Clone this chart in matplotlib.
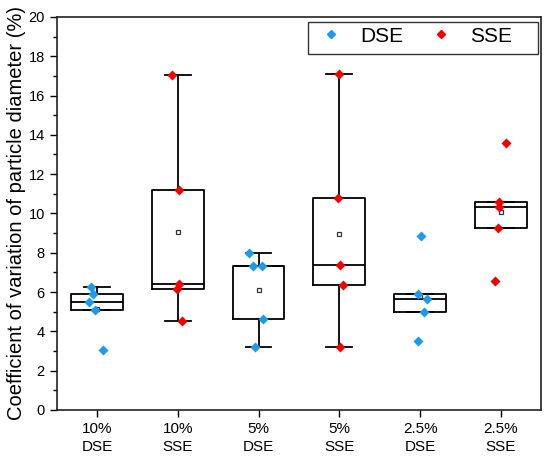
import matplotlib
matplotlib.use('Agg')
import matplotlib.pyplot as plt
from matplotlib.ticker import MultipleLocator
from matplotlib.lines import Line2D
from matplotlib.patches import Rectangle

plt.rcParams['font.family'] = ['Liberation Sans', 'DejaVu Sans']

labels = ['10%\nDSE', '10%\nSSE', '5%\nDSE', '5%\nSSE', '2.5%\nDSE', '2.5%\nSSE']
groups = ['DSE', 'SSE', 'DSE', 'SSE', 'DSE', 'SSE']

# coefficient of variation values per sample
cv_10_dse = [6.28, 5.90, 5.48, 5.07, 3.05]
cv_10_sse = [17.03, 11.20, 6.40, 6.14, 4.53]
cv_5_dse = [8.00, 7.30, 7.33, 4.61, 3.22]
cv_5_sse = [17.07, 10.80, 7.38, 6.37, 3.22]
cv_25_dse = [8.84, 5.89, 5.66, 4.99, 3.51]
cv_25_sse = [13.57, 10.59, 10.31, 9.26, 6.55]

# horizontal jitter of the dots
jit_10_dse = [-0.07, -0.05, -0.10, -0.03, 0.08]
jit_10_sse = [-0.07, 0.01, 0.02, -0.01, 0.05]
jit_5_dse = [-0.12, -0.07, 0.04, 0.05, -0.04]
jit_5_sse = [0.00, -0.02, 0.01, 0.04, 0.01]
jit_25_dse = [0.01, -0.02, 0.09, 0.05, -0.02]
jit_25_sse = [0.07, -0.02, -0.02, -0.04, -0.07]

data = [cv_10_dse, cv_10_sse, cv_5_dse, cv_5_sse, cv_25_dse, cv_25_sse]
jitter = [jit_10_dse, jit_10_sse, jit_5_dse, jit_5_sse, jit_25_dse, jit_25_sse]
colors = {'DSE': '#1a9bf0', 'SSE': '#f00000'}

fig = plt.figure(figsize=(5.5, 4.57), dpi=100)
ax = fig.add_axes([0.103, 0.103, 0.881, 0.860])

pos = list(range(1, len(data) + 1))
lw = 1.3
ax.boxplot(data, positions=pos, widths=0.64, showfliers=False, showmeans=True,
           boxprops=dict(color='black', linewidth=lw),
           medianprops=dict(color='black', linewidth=lw),
           whiskerprops=dict(color='black', linewidth=lw),
           capprops=dict(color='black', linewidth=lw),
           meanprops=dict(marker='s', markerfacecolor='white', markeredgecolor='#333333',
                          markersize=3.5, markeredgewidth=0.9))

for i, (vals, jit, g) in enumerate(zip(data, jitter, groups)):
    xs = [pos[i] + j for j in jit]
    ax.scatter(xs, vals, marker='D', s=26, color=colors[g], zorder=3, linewidths=0)

ax.set_xlim(0.5, 6.5)
ax.set_ylim(0, 20)
ax.set_xticks(pos)
ax.set_xticklabels(labels, fontsize=11, linespacing=1.3)
ax.yaxis.set_major_locator(MultipleLocator(2))
ax.yaxis.set_minor_locator(MultipleLocator(1))
ax.tick_params(axis='y', labelsize=10.5, direction='out', length=5, width=1)
ax.tick_params(axis='y', which='minor', length=3, width=1)
ax.tick_params(axis='x', direction='out', length=5, width=1, pad=4)
for s in ax.spines.values():
    s.set_linewidth(1.2)
    s.set_color('#222222')
ax.set_ylabel('Coefficient of variation of particle diameter (%)', fontsize=14.5, labelpad=2)

handles = [Line2D([], [], linestyle='none', marker='D', markersize=4, color=colors['DSE'], label='DSE'),
           Line2D([], [], linestyle='none', marker='D', markersize=4, color=colors['SSE'], label='SSE')]
leg = ax.legend(handles=handles, loc='upper right', bbox_to_anchor=(0.946, 0.983), ncol=2,
                fontsize=15, frameon=False, borderaxespad=0, borderpad=0.15,
                handlelength=1.0, handletextpad=0.9, columnspacing=1.28)

# legend frame with wider side margins, like the original
fig.canvas.draw()
bb = leg.get_window_extent(fig.canvas.get_renderer())
frame = Rectangle((bb.x0 - 10, bb.y0 - 4.7), bb.width + 10 + 23, bb.height + 6, transform=None,
                  fill=False, edgecolor='#333333', linewidth=1.0, zorder=5)
fig.add_artist(frame)

fig.savefig('out.png', dpi=100)
